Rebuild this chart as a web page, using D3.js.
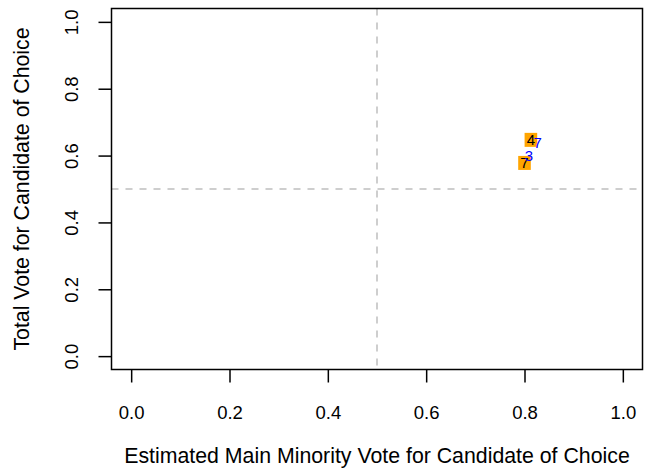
<!DOCTYPE html>
<html>
<head>
<meta charset="utf-8">
<script src="https://cdn.jsdelivr.net/npm/d3@7"></script>
<style>
  html, body { margin: 0; padding: 0; background: #fff; }
  svg { display: block; }
  text { font-family: "Liberation Sans", Arial, Helvetica, sans-serif; }
</style>
</head>
<body>
<div id="chart"></div>
<script>
// ---- data ----
const xTicks = [0.0, 0.2, 0.4, 0.6, 0.8, 1.0];
const yTicks = [0.0, 0.2, 0.4, 0.6, 0.8, 1.0];
const tickLabels = ["0.0", "0.2", "0.4", "0.6", "0.8", "1.0"];
// black labelled estimates (with orange squares)
const mainLabels = ["4", "7"];
const mainX = [0.813, 0.800];
const mainY = [0.647, 0.578];
// blue labelled estimates
const altLabels = ["7", "3"];
const altX = [0.827, 0.809];
const altY = [0.639, 0.600];
const refX = 0.5, refY = 0.5;
const xTitle = "Estimated Main Minority Vote for Candidate of Choice";
const yTitle = "Total Vote for Candidate of Choice";

// ---- layout ----
const W = 651, H = 474;
const plot = { left: 111.5, right: 642.5, top: 8.5, bottom: 369.5 };

const svg = d3.select("#chart").append("svg").attr("width", W).attr("height", H);

const x = d3.scaleLinear().domain([-0.04, 1.04]).range([plot.left, plot.right]);
const y = d3.scaleLinear().domain([-0.04, 1.04]).range([plot.bottom, plot.top]);

const tickFont = 18.5, titleFont = 21.3;

// reference lines
svg.append("line")
  .attr("x1", x(refX)).attr("x2", x(refX))
  .attr("y1", plot.top).attr("y2", plot.bottom)
  .attr("stroke", "#bebebe").attr("stroke-width", 1.5).attr("stroke-dasharray", "7,7");
svg.append("line")
  .attr("x1", plot.left).attr("x2", plot.right)
  .attr("y1", y(refY)).attr("y2", y(refY))
  .attr("stroke", "#bebebe").attr("stroke-width", 1.5).attr("stroke-dasharray", "7,7");

const mainData = mainLabels.map((l, i) => ({ l, x: mainX[i], y: mainY[i] }));
const altData = altLabels.map((l, i) => ({ l, x: altX[i], y: altY[i] }));

// orange squares
svg.selectAll("rect.pt").data(mainData).enter().append("rect")
  .attr("class", "pt")
  .attr("x", d => x(d.x) - 6.3).attr("y", d => y(d.y) - 7)
  .attr("width", 12.6).attr("height", 14)
  .attr("fill", "#ffa500");

svg.selectAll("text.main").data(mainData).enter().append("text")
  .attr("class", "main")
  .attr("x", d => x(d.x)).attr("y", d => y(d.y) + 5.3)
  .attr("text-anchor", "middle").attr("font-size", 15)
  .attr("fill", "#000").text(d => d.l);

svg.selectAll("text.alt").data(altData).enter().append("text")
  .attr("class", "alt")
  .attr("x", d => x(d.x)).attr("y", d => y(d.y) + 5.3)
  .attr("text-anchor", "middle").attr("font-size", 15)
  .attr("fill", "#0000ff").text(d => d.l);

// box
svg.append("rect")
  .attr("x", plot.left).attr("y", plot.top)
  .attr("width", plot.right - plot.left).attr("height", plot.bottom - plot.top)
  .attr("fill", "none").attr("stroke", "#000").attr("stroke-width", 1.5);

// x axis
const xAxis = d3.axisBottom(x).tickValues(xTicks).tickSize(13).tickPadding(23)
  .tickFormat((d, i) => tickLabels[i]);
const gx = svg.append("g").attr("transform", `translate(0,${plot.bottom})`).call(xAxis);
gx.select(".domain").remove();
gx.selectAll(".tick line").attr("stroke", "#000").attr("stroke-width", 1.5);
gx.selectAll(".tick text").attr("font-size", tickFont).attr("font-family", "Liberation Sans, Arial, sans-serif").attr("fill", "#000");

// y axis
const yAxis = d3.axisLeft(y).tickValues(yTicks).tickSize(13)
  .tickFormat((d, i) => tickLabels[i]);
const gy = svg.append("g").attr("transform", `translate(${plot.left},0)`).call(yAxis);
gy.select(".domain").remove();
gy.selectAll(".tick line").attr("stroke", "#000").attr("stroke-width", 1.5);
gy.selectAll(".tick text")
  .attr("font-size", tickFont).attr("font-family", "Liberation Sans, Arial, sans-serif").attr("fill", "#000")
  .attr("x", 0).attr("dy", null).attr("y", 0)
  .attr("text-anchor", "middle")
  .attr("transform", "translate(-34,0) rotate(-90)");

// titles
svg.append("text")
  .attr("x", x(0.5)).attr("y", 463)
  .attr("text-anchor", "middle").attr("font-size", titleFont).attr("fill", "#000")
  .text(xTitle);
svg.append("text")
  .attr("transform", `translate(29,${y(0.5)}) rotate(-90)`)
  .attr("text-anchor", "middle").attr("font-size", titleFont).attr("fill", "#000")
  .text(yTitle);
</script>
</body>
</html>
